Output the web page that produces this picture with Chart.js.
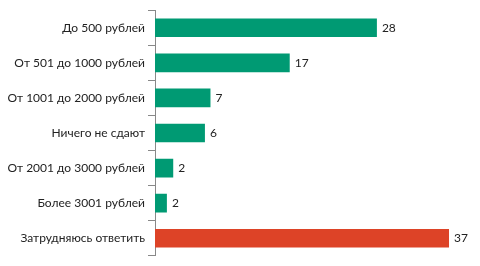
<!DOCTYPE html>
<html>
<head>
<meta charset="utf-8">
<script src="https://cdn.jsdelivr.net/npm/chart.js@4"></script>
<style>
  html, body { margin: 0; padding: 0; background: #fff; }
  #box { width: 480px; height: 266px; }
</style>
</head>
<body>
<div id="box"><canvas id="myChart"></canvas></div>
<script>
// данные
const categories = [
	'До 500 рублей',
	'От 501 до 1000 рублей',
	'От 1001 до 2000 рублей',
	'Ничего не сдают',
	'От 2001 до 3000 рублей',
	'Более 3001 рублей',
	'Затрудняюсь ответить'
];
// длины столбцов (оценка по картинке) и подписи к ним
const values = [28, 17, 7, 6.3, 2.3, 1.5, 37.1];
const valueText = ['28', '17', '7', '6', '2', '2', '37'];
const barColors = ['#009a73', '#009a73', '#009a73', '#009a73', '#009a73', '#009a73', '#dd4327'];

// подписи значений у конца столбцов
const valueLabels = {
	id: 'valueLabels',
	afterDatasetsDraw(chart) {
		const ctx = chart.ctx;
		const meta = chart.getDatasetMeta(0);
		ctx.save();
		ctx.font = '12px Lato, sans-serif';
		ctx.fillStyle = '#222';
		ctx.textBaseline = 'middle';
		meta.data.forEach((bar, i) => {
			ctx.fillText(valueText[i], bar.x + 5, bar.y);
		});
		ctx.restore();
	}
};

const ctx = document.getElementById('myChart').getContext('2d');
const myChart = new Chart(ctx, {
	type: 'bar',
	data: {
		labels: categories,
		datasets: [{
			data: values,
			backgroundColor: barColors,
			barPercentage: 0.53,
			categoryPercentage: 1
		}]
	},
	options: {
		indexAxis: 'y',
		responsive: true,
		maintainAspectRatio: false,
		animation: false,
		layout: { padding: { top: 5, bottom: 6, right: 8, left: 0 } },
		plugins: {
			legend: { display: false },
			tooltip: { enabled: false }
		},
		scales: {
			x: {
				display: false,
				min: 0,
				max: 40
			},
			y: {
				afterFit(scale) { scale.width = 155; },
				border: { display: true, color: '#888', width: 1 },
				grid: {
					offset: true,
					drawOnChartArea: false,
					drawTicks: true,
					tickLength: 7,
					color: '#888'
				},
				ticks: {
					color: '#222',
					padding: 3,
					font: { family: 'Lato, sans-serif', size: 12 }
				}
			}
		}
	},
	plugins: [valueLabels]
});
</script>
</body>
</html>
